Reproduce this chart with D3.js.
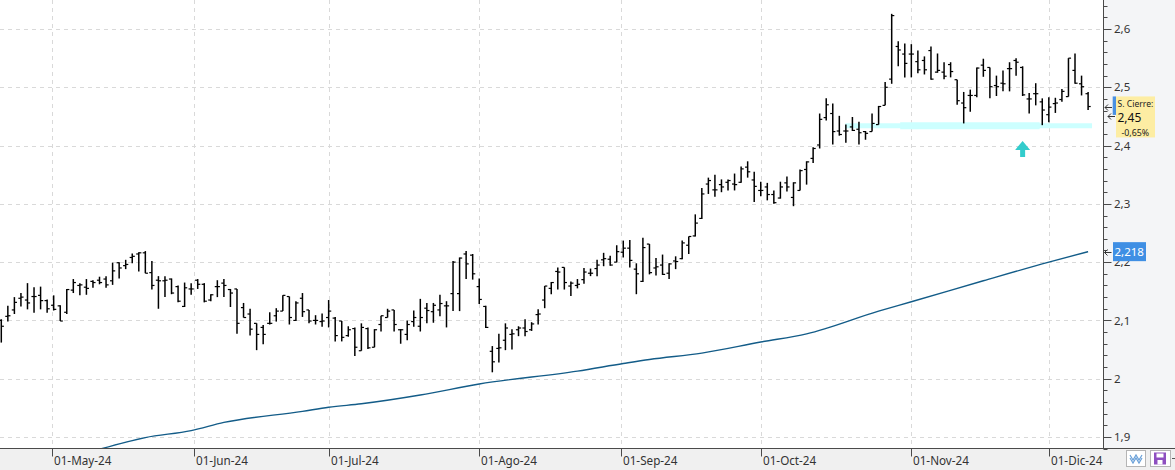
<!DOCTYPE html>
<html><head><meta charset="utf-8">
<script src="https://cdn.jsdelivr.net/npm/d3@7"></script>
<style>html,body{margin:0;padding:0;background:#fff;overflow:hidden}</style>
</head><body>
<svg id="c" width="1175" height="470"></svg>
<script>
// ---- DATA ----
const openP = [2.100,2.107,2.118,2.138,2.135,2.141,2.143,2.134,2.126,2.125,
2.114,2.152,2.160,2.157,2.167,2.169,2.171,2.168,2.199,2.194,
2.208,2.214,2.216,2.182,2.169,2.168,2.171,2.158,2.124,2.154,
2.169,2.162,2.135,2.158,2.164,2.153,2.154,2.122,2.111,2.095,
2.088,2.095,2.108,2.116,2.141,2.100,2.138,2.118,2.100,2.098,
2.105,2.104,2.099,2.074,2.086,2.048,2.086,2.054,2.093,2.105,
2.118,2.084,2.076,2.098,2.090,2.121,2.115,2.118,2.125,2.146,
2.146,2.214,2.212,2.158,2.124,2.047,2.052,2.066,2.076,2.084,
2.087,2.084,2.110,2.135,2.155,2.184,2.191,2.159,2.160,2.170,
2.181,2.189,2.204,2.205,2.200,2.217,2.224,2.188,2.167,2.231,
2.190,2.195,2.181,2.202,2.206,2.229,2.245,2.275,2.334,2.324,
2.333,2.337,2.334,2.337,2.363,2.341,2.323,2.329,2.316,2.310,
2.336,2.311,2.323,2.359,2.378,2.401,2.448,2.455,2.425,2.425,
2.432,2.428,2.424,2.424,2.436,2.469,2.514,2.570,2.557,2.557,
2.544,2.546,2.563,2.526,2.526,2.539,2.513,2.473,2.486,2.486,
2.538,2.534,2.503,2.507,2.532,2.546,2.534,2.480,2.489,2.475,
2.453,2.472,2.479,2.484,2.529,2.506,2.489];
const highP = [2.102,2.125,2.140,2.147,2.164,2.157,2.158,2.136,2.143,2.126,
2.154,2.171,2.164,2.171,2.169,2.175,2.176,2.199,2.200,2.204,
2.215,2.217,2.219,2.202,2.176,2.176,2.172,2.160,2.165,2.164,
2.171,2.164,2.145,2.169,2.171,2.154,2.154,2.130,2.120,2.095,
2.092,2.114,2.121,2.143,2.141,2.133,2.147,2.118,2.109,2.112,
2.135,2.106,2.099,2.090,2.088,2.095,2.088,2.085,2.108,2.120,
2.118,2.085,2.100,2.117,2.137,2.130,2.130,2.144,2.133,2.202,
2.208,2.219,2.214,2.172,2.125,2.056,2.077,2.095,2.085,2.090,
2.102,2.097,2.119,2.159,2.166,2.191,2.191,2.167,2.171,2.190,
2.189,2.204,2.216,2.211,2.229,2.237,2.238,2.198,2.242,2.231,
2.207,2.213,2.198,2.210,2.237,2.244,2.282,2.327,2.345,2.350,
2.342,2.342,2.352,2.364,2.373,2.355,2.338,2.336,2.323,2.338,
2.347,2.337,2.359,2.373,2.397,2.455,2.481,2.472,2.451,2.436,
2.449,2.441,2.425,2.455,2.468,2.509,2.626,2.579,2.575,2.574,
2.563,2.553,2.570,2.558,2.543,2.543,2.513,2.492,2.496,2.534,
2.549,2.534,2.520,2.529,2.543,2.550,2.536,2.490,2.507,2.481,
2.483,2.482,2.497,2.550,2.558,2.520,2.492];
const lowP = [2.062,2.098,2.111,2.124,2.119,2.113,2.119,2.113,2.117,2.099,
2.111,2.147,2.143,2.144,2.156,2.162,2.156,2.161,2.172,2.188,
2.198,2.184,2.181,2.153,2.120,2.140,2.145,2.131,2.123,2.144,
2.154,2.131,2.133,2.140,2.140,2.123,2.077,2.105,2.074,2.049,
2.059,2.093,2.098,2.116,2.093,2.099,2.106,2.095,2.093,2.089,
2.088,2.064,2.064,2.072,2.039,2.048,2.051,2.054,2.081,2.105,
2.081,2.060,2.066,2.089,2.081,2.095,2.096,2.107,2.088,2.116,
2.116,2.171,2.170,2.128,2.087,2.011,2.028,2.049,2.050,2.073,
2.073,2.082,2.093,2.121,2.145,2.153,2.153,2.142,2.155,2.163,
2.176,2.176,2.193,2.194,2.200,2.208,2.191,2.145,2.166,2.179,
2.177,2.178,2.171,2.188,2.205,2.214,2.244,2.274,2.317,2.312,
2.320,2.323,2.323,2.336,2.345,2.303,2.313,2.306,2.300,2.309,
2.321,2.296,2.323,2.333,2.370,2.395,2.443,2.402,2.417,2.405,
2.425,2.402,2.410,2.424,2.436,2.469,2.506,2.536,2.517,2.517,
2.524,2.522,2.513,2.525,2.514,2.517,2.470,2.438,2.458,2.483,
2.518,2.481,2.485,2.493,2.493,2.520,2.485,2.455,2.469,2.435,
2.440,2.456,2.475,2.484,2.506,2.486,2.461];
const closeP = [2.090,2.108,2.131,2.140,2.130,2.141,2.134,2.120,2.119,2.099,
2.153,2.165,2.161,2.155,2.165,2.165,2.161,2.185,2.190,2.196,
2.210,2.216,2.181,2.160,2.168,2.169,2.147,2.133,2.156,2.154,
2.162,2.133,2.144,2.158,2.160,2.147,2.095,2.105,2.085,2.076,
2.076,2.095,2.116,2.143,2.105,2.130,2.115,2.099,2.100,2.099,
2.116,2.074,2.071,2.084,2.054,2.088,2.053,2.084,2.108,2.116,
2.093,2.084,2.093,2.105,2.105,2.117,2.126,2.129,2.125,2.200,
2.207,2.197,2.180,2.136,2.088,2.029,2.053,2.087,2.077,2.087,
2.081,2.094,2.111,2.159,2.165,2.183,2.165,2.164,2.162,2.183,
2.181,2.195,2.206,2.195,2.218,2.224,2.203,2.180,2.225,2.182,
2.192,2.179,2.197,2.201,2.233,2.244,2.267,2.317,2.340,2.324,
2.329,2.340,2.333,2.360,2.355,2.330,2.323,2.316,2.302,2.329,
2.329,2.336,2.357,2.372,2.395,2.445,2.470,2.424,2.419,2.425,
2.426,2.422,2.421,2.438,2.467,2.500,2.623,2.564,2.541,2.557,
2.530,2.530,2.514,2.529,2.519,2.527,2.477,2.465,2.486,2.533,
2.529,2.501,2.501,2.506,2.532,2.543,2.487,2.480,2.489,2.461,
2.466,2.473,2.493,2.550,2.507,2.501,2.467];

// moving average, read at selected bar indices
const maIdx = [15,22,29,34,46,50,55,64,73,88,95,99,107,116,123,134,139,150,160,166];
const maVal = [1.879,1.899,1.911,1.925,1.944,1.951,1.957,1.972,1.991,2.013,2.026,2.033,2.044,2.063,2.077,2.116,2.132,2.168,2.200,2.218];

// x-axis labels (bar index of month start)
const tickIdx = [7.7,29.5,50,73,94.65,116,139,160];
const tickLabels = ["01-May-24","01-Jun-24","01-Jul-24","01-Ago-24","01-Sep-24","01-Oct-24","01-Nov-24","01-Dic-24"];
const yTicks = [1.9,2.0,2.1,2.2,2.3,2.4,2.5,2.6];

// support line annotation
const supportVal = 2.434;
const supportRange = [128.9,166.6];
const supportCore = [137.3,158.6];
const signalIdx = 156, signalVal = 2.408;

const lastQuote = 2.45, lastChangePct = -0.65;

// ---- DRAW ----
const svg = d3.select("#c");
const font = "'Noto Sans', 'DejaVu Sans', sans-serif";
const PR = 1103.5, PB = 448.5;
const n = closeP.length;
const x = d3.scaleLinear().domain([0, n-1]).range([1.3, 1088.1]);
const y = d3.scaleLinear().domain([1.9, 2.6]).range([437, 29]);
const fmtC = v => String(v).replace('.', ',');

svg.append("rect").attr("width",1175).attr("height",470).attr("fill","#fff");
svg.append("rect").attr("x",1104).attr("y",0).attr("width",71).attr("height",449).attr("fill","#f4f5f7");
svg.append("rect").attr("x",0).attr("y",449).attr("width",1175).attr("height",21).attr("fill","#f0f0f0");

svg.append("defs").append("clipPath").attr("id","pc")
  .append("rect").attr("x",0).attr("y",0).attr("width",1103).attr("height",448);

const g = svg.append("g").attr("clip-path","url(#pc)");

// grid
g.selectAll(".hg").data(yTicks).enter().append("line")
  .attr("x1",0).attr("x2",1103)
  .attr("y1",d=>Math.round(y(d))+0.5).attr("y2",d=>Math.round(y(d))+0.5)
  .attr("stroke","#d9d9d9").attr("stroke-dasharray","4,4");
g.selectAll(".vg").data(tickIdx).enter().append("line")
  .attr("y1",0).attr("y2",448)
  .attr("x1",d=>Math.round(x(d))+0.5).attr("x2",d=>Math.round(x(d))+0.5)
  .attr("stroke","#d9d9d9").attr("stroke-dasharray","4,4");

// support band
g.append("rect").attr("x",x(supportRange[0])).attr("width",x(supportRange[1])-x(supportRange[0]))
  .attr("y",y(supportVal)-2.5).attr("height",5).attr("fill","#ccffff");
g.append("rect").attr("x",x(supportCore[0])).attr("width",x(supportCore[1])-x(supportCore[0]))
  .attr("y",y(supportVal)-3.5).attr("height",7).attr("fill","#ccffff");

// moving average
const ma = maIdx.map((d,i)=>[d,maVal[i]]);
g.append("path").datum(ma)
  .attr("d", d3.line().x(d=>x(d[0])).y(d=>y(d[1])).curve(d3.curveMonotoneX))
  .attr("fill","none").attr("stroke","#135c88").attr("stroke-width",1.4);

// OHLC bars
const bars = g.selectAll(".bar").data(d3.range(n)).enter().append("g");
bars.append("line").attr("x1",i=>x(i)).attr("x2",i=>x(i))
  .attr("y1",i=>y(highP[i])).attr("y2",i=>y(lowP[i]))
  .attr("stroke","#000").attr("stroke-width",1.5);
bars.append("line").attr("x1",i=>x(i)-2.6).attr("x2",i=>x(i))
  .attr("y1",i=>y(openP[i])).attr("y2",i=>y(openP[i]))
  .attr("stroke","#000").attr("stroke-width",1.2);
bars.append("line").attr("x1",i=>x(i)).attr("x2",i=>x(i)+2.6)
  .attr("y1",i=>y(closeP[i])).attr("y2",i=>y(closeP[i]))
  .attr("stroke","#000").attr("stroke-width",1.2);

// signal arrow
{
  const ax = x(signalIdx), ay = y(signalVal);
  g.append("path")
    .attr("d",`M${ax},${ay} L${ax+7.5},${ay+9} L${ax+2.5},${ay+9} L${ax+2.5},${ay+16} L${ax-2.5},${ay+16} L${ax-2.5},${ay+9} L${ax-7.5},${ay+9} Z`)
    .attr("fill","#33cccc");
}

// axes lines
svg.append("line").attr("x1",PR).attr("x2",PR).attr("y1",0).attr("y2",PB).attr("stroke","#4a4a4a");
svg.append("line").attr("x1",0).attr("x2",1175).attr("y1",PB).attr("y2",PB).attr("stroke","#4a4a4a");

// y ticks (minor every 0.02)
const minor = d3.range(188, 266, 2).map(d=>d/100);
svg.selectAll(".yt").data(minor).enter().append("line")
  .attr("x1",PR).attr("x2",(d,i)=> (Math.round(d*100)%10===0) ? PR+8 : PR+4)
  .attr("y1",d=>Math.round(y(d))+0.5).attr("y2",d=>Math.round(y(d))+0.5)
  .attr("stroke","#4a4a4a");
svg.selectAll(".yl").data(yTicks).enter().append("text")
  .attr("x",1114).attr("y",d=>y(d)).attr("dy","0.36em")
  .attr("font-family",font).attr("font-size",11.5).attr("fill","#333")
  .text(d=>fmtC(+d.toFixed(1)));

// x ticks
svg.selectAll(".xt").data(tickIdx).enter().append("line")
  .attr("x1",d=>Math.round(x(d))+0.5).attr("x2",d=>Math.round(x(d))+0.5)
  .attr("y1",PB).attr("y2",PB+8).attr("stroke","#4a4a4a");
svg.selectAll(".xl").data(tickIdx).enter().append("text")
  .attr("x",d=>Math.round(x(d))+2).attr("y",465)
  .attr("font-family",font).attr("font-size",11.7).attr("fill","#333")
  .text((d,i)=>tickLabels[i]);

// small arrow markers
function leftArrow(ax, ay){
  svg.append("path").attr("d",`M${ax+7},${ay} H${ax} M${ax+3},${ay-3} L${ax},${ay} L${ax+3},${ay+3}`)
    .attr("fill","none").attr("stroke","#333").attr("stroke-width",1);
}
leftArrow(1105, Math.round(y(closeP[n-1]))+0.5);
leftArrow(1108, Math.round(y(lastQuote))+0.5);
leftArrow(1104.5, Math.round(y(maVal[maVal.length-1]))+0.5);

// last quote box
{
  const cy = y(lastQuote);
  svg.append("rect").attr("x",1112.7).attr("y",cy-20).attr("width",3.3).attr("height",18.5).attr("fill","#4a90e2");
  svg.append("rect").attr("x",1116).attr("y",cy-20).attr("width",39).attr("height",41).attr("fill","#fdeda3");
  svg.append("text").attr("x",1117.5).attr("y",cy-12).attr("dy","0.35em")
    .attr("font-family",font).attr("font-size",8.6).attr("fill","#222").text("S. Cierre:");
  svg.append("text").attr("x",1117.5).attr("y",cy+1).attr("dy","0.36em")
    .attr("font-family",font).attr("font-size",12).attr("fill","#111").text(fmtC(lastQuote.toFixed(2)));
  svg.append("text").attr("x",1121.5).attr("y",cy+16).attr("dy","0.35em")
    .attr("font-family",font).attr("font-size",8.8).attr("fill","#222").text(fmtC(lastChangePct.toFixed(2))+"%");
}
// MA value box
{
  const v = maVal[maVal.length-1], cy = y(v);
  svg.append("rect").attr("x",1113).attr("y",cy-9.5).attr("width",33).attr("height",19).attr("fill","#3f8fe4");
  svg.append("text").attr("x",1114.5).attr("y",cy).attr("dy","0.36em")
    .attr("font-family",font).attr("font-size",11.5).attr("fill","#fff").text(fmtC(v.toFixed(3)));
}

// bottom-right icons
svg.append("rect").attr("x",1126.5).attr("y",450.5).attr("width",19).attr("height",16).attr("fill","#fff").attr("stroke","#b5b5b5");
svg.append("polyline").attr("points","1130,455 1133,460 1136,455 1139,460 1142,455").attr("fill","none").attr("stroke","#6aa0d8").attr("stroke-width",1.2);
svg.append("polyline").attr("points","1130,458 1133,463 1136,458 1139,463 1142,458").attr("fill","none").attr("stroke","#6aa0d8").attr("stroke-width",1.2);
svg.append("rect").attr("x",1150.5).attr("y",450.5).attr("width",20).attr("height",16).attr("fill","#fff").attr("stroke","#b5b5b5");
svg.append("rect").attr("x",1154).attr("y",452.5).attr("width",12).attr("height",12).attr("fill","#8e4fc0");
svg.append("rect").attr("x",1156.5).attr("y",453.5).attr("width",7).attr("height",4).attr("fill","#fff");
svg.append("rect").attr("x",1157.5).attr("y",460).attr("width",5).attr("height",4.5).attr("fill","#fff");
svg.append("line").attr("x1",1172).attr("x2",1175).attr("y1",458.5).attr("y2",458.5).attr("stroke","#555");
</script>
</body></html>
